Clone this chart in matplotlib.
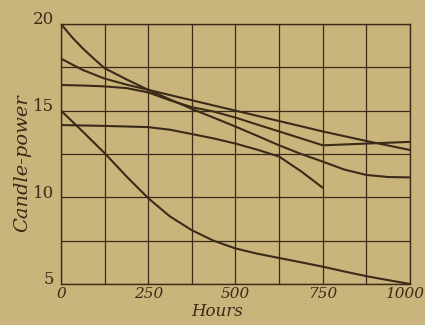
import matplotlib
matplotlib.use("Agg")
import matplotlib.pyplot as plt
import matplotlib.transforms as mtransforms

# ---- data (hours, candle-power) ----
hours_a = [0, 31, 62, 94, 125, 188, 250, 312, 375, 437, 500, 562, 625, 688, 750, 812, 875, 938, 1000]
cp_a = [20.0, 19.25, 18.6, 18.0, 17.45, 16.8, 16.2, 15.65, 15.1, 14.6, 14.08, 13.55, 13.0, 12.5, 12.06, 11.6, 11.29, 11.17, 11.15]

hours_b = [0, 62, 125, 188, 250, 312, 375, 437, 500, 625, 750, 875, 1000]
cp_b = [18.0, 17.35, 16.85, 16.5, 16.2, 15.9, 15.6, 15.3, 15.0, 14.4, 13.8, 13.25, 12.73]

hours_c = [0, 62, 125, 188, 250, 312, 375, 437, 500, 562, 625, 688, 750, 875, 1000]
cp_c = [16.48, 16.45, 16.4, 16.3, 16.05, 15.6, 15.2, 14.95, 14.6, 14.2, 13.8, 13.4, 13.0, 13.1, 13.2]

hours_d = [0, 62, 125, 188, 250, 312, 375, 437, 500, 562, 625, 688, 750, 812, 875, 938, 1000]
cp_d = [15.0, 13.8, 12.55, 11.2, 9.95, 8.9, 8.1, 7.5, 7.05, 6.75, 6.5, 6.25, 6.0, 5.72, 5.45, 5.22, 5.0]

hours_e = [0, 125, 250, 312, 375, 437, 500, 562, 625, 688, 750]
cp_e = [14.17, 14.12, 14.05, 13.9, 13.65, 13.4, 13.1, 12.75, 12.35, 11.5, 10.55]

x_ticks = [0, 250, 500, 750, 1000]
y_ticks = [5, 10, 15, 20]

paper = "#c9b57c"
ink = "#3b2a18"

fig = plt.figure(figsize=(4.25, 3.25), dpi=100, facecolor=paper)
ax = fig.add_axes([0.1435, 0.1262, 0.8212, 0.80])
ax.set_facecolor(paper)

for hh, cc in [(hours_a, cp_a), (hours_b, cp_b), (hours_c, cp_c), (hours_d, cp_d), (hours_e, cp_e)]:
    ax.plot(hh, cc, color=ink, lw=1.5, solid_capstyle="round", solid_joinstyle="round")

ax.set_xlim(0, 1000)
ax.set_ylim(5, 20)

# ruled grid every 125 h and 2.5 cp
for gx in range(0, 1001, 125):
    ax.axvline(gx, color=ink, lw=0.9, zorder=1)
for gy in [5, 7.5, 10, 12.5, 15, 17.5, 20]:
    ax.axhline(gy, color=ink, lw=0.9, zorder=1)
for s in ax.spines.values():
    s.set_color(ink)
    s.set_linewidth(1.0)

ax.set_xticks(x_ticks)
ax.set_yticks(y_ticks)
ax.tick_params(axis="x", length=0, colors=ink, labelsize=11, pad=2)
ax.tick_params(axis="y", length=0, colors=ink, labelsize=12, pad=5)
ax.set_xticklabels([str(t) for t in x_ticks], family="DejaVu Serif", style="italic")
ax.set_yticklabels([str(t) for t in y_ticks], family="DejaVu Serif")
up = mtransforms.ScaledTranslation(0, 6 / 100, fig.dpi_scale_trans)
for lab in ax.get_yticklabels():
    lab.set_transform(lab.get_transform() + up)
left = mtransforms.ScaledTranslation(-5 / 100, 0, fig.dpi_scale_trans)
last = ax.get_xticklabels()[-1]
last.set_transform(last.get_transform() + left)

fig.text(217 / 425, 1 - 311 / 325, "Hours", family="DejaVu Serif", style="italic",
         fontsize=12, color=ink, ha="center", va="center")
fig.text(22 / 425, 1 - 163 / 325, "Candle-power", family="DejaVu Serif", style="italic",
         fontsize=14, color=ink, ha="center", va="center", rotation=90)

fig.savefig("out.png", dpi=100, facecolor=paper)
